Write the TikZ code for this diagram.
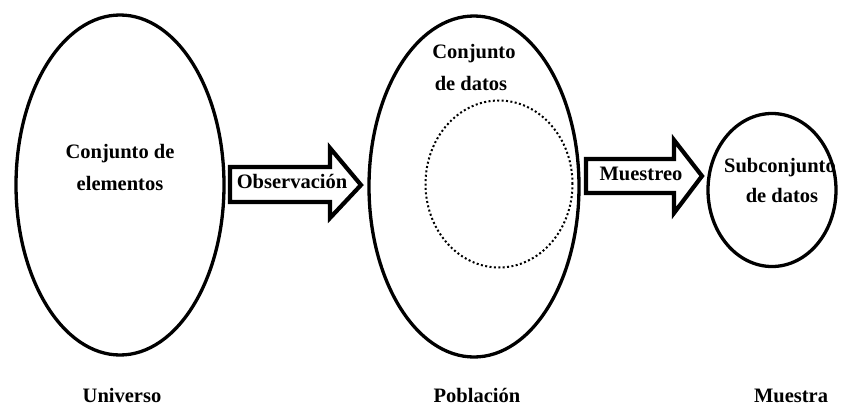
\documentclass[tikz,border=0pt]{standalone}
\usepackage{fontspec}
\setmainfont{Liberation Serif}
\usetikzlibrary{shapes.geometric}
\begin{document}
\begin{tikzpicture}[x=1pt,y=-1pt,
  set/.style={draw, ellipse, line width=3.3pt, inner sep=0pt},
  subset/.style={draw, ellipse, line width=2pt, inner sep=0pt,
    dash pattern=on 2pt off 2.4pt},
  lbl/.style={font=\bfseries\fontsize{20.5}{30}\selectfont, inner sep=0pt, anchor=base},
  blockarrow/.style={draw, line width=4.2pt, miter limit=10, line join=miter, fill=white},
]
\useasboundingbox (0,0) rectangle (844,407);

% the three sets
\node[set, minimum width=208pt, minimum height=340pt] (universo) at (120,185) {};
\node[set, minimum width=210pt, minimum height=341pt] (poblacion) at (474,186.5) {};
\node[set, minimum width=128pt, minimum height=153pt] (muestra) at (772,190) {};
\node[subset, minimum width=147pt, minimum height=167pt] (datos) at (499,184) {};

% block arrows between the sets
\draw[blockarrow] (230,167) -- (330,167) -- (330,148) -- (361,185)
  -- (330,218) -- (330,202) -- (230,202) -- cycle;
\draw[blockarrow] (586,159) -- (674,159) -- (674,140) -- (702,176)
  -- (674,213) -- (674,193) -- (586,193) -- cycle;

% texts inside the sets
\node[lbl] (u1) at (120,158) {Conjunto de};
\node[lbl] (u2) at (120,190) {elementos};
\node[lbl] (p1) at (474,58) {Conjunto};
\node[lbl] (p2) at (471,90) {de datos};
\node[lbl] (m1) at (780,172) {Subconjunto};
\node[lbl] (m2) at (782,202) {de datos};

% arrow labels
\node[lbl] (obs) at (292,188) {Observación};
\node[lbl] (mue) at (641,180) {Muestreo};

% captions
\node[lbl] (cu) at (122,402) {Universo};
\node[lbl] (cp) at (477,402) {Población};
\node[lbl] (cm) at (791,402) {Muestra};
\end{tikzpicture}
\end{document}
